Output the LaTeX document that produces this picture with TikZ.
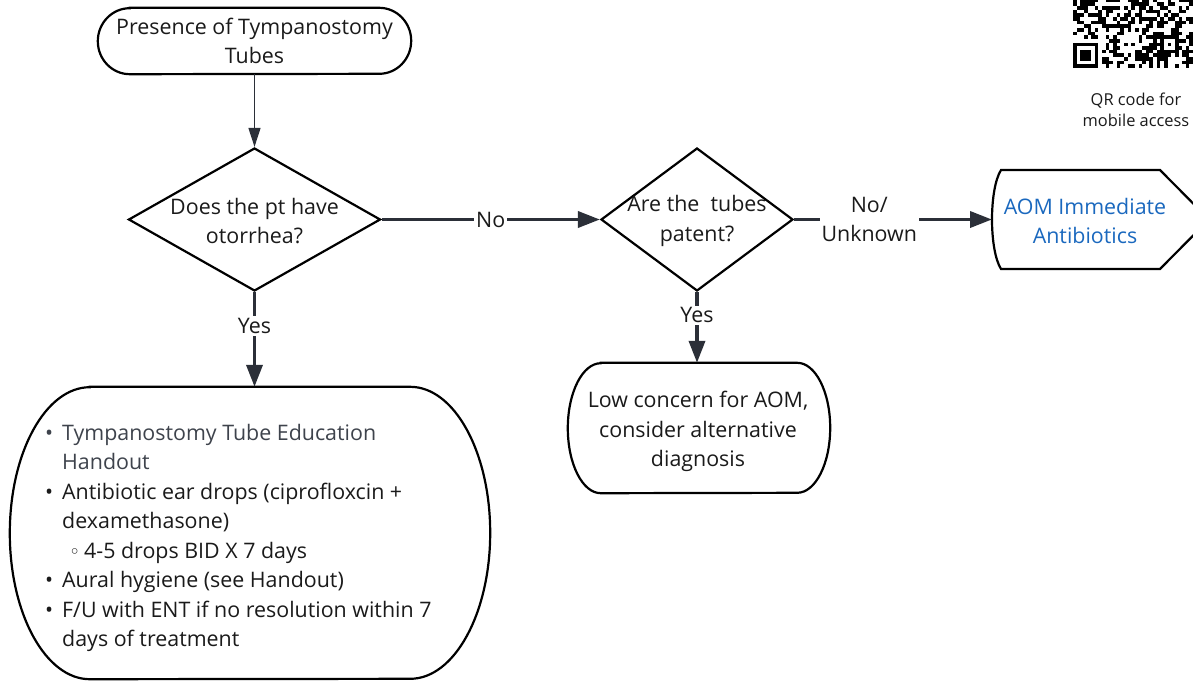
\documentclass[tikz,border=0pt]{standalone}
\usepackage{fontspec}
\setmainfont{Open Sans}
\newfontfamily\symfont{DejaVu Sans}
\usetikzlibrary{shapes.geometric,arrows.meta}
\definecolor{conn}{HTML}{2B2F38}
\definecolor{linkblue}{HTML}{1A68BE}
\definecolor{linkgray}{HTML}{3E434C}
\definecolor{txtc}{HTML}{1A1A1A}
\begin{document}
\begin{tikzpicture}[x=1pt,y=1pt,
  txt/.style={font=\fontsize{21.4}{29.5}\selectfont, align=center, inner sep=0pt, text=txtc},
  outline/.style={draw=black, line width=2.2pt},
  thickconn/.style={draw=conn, line width=3.6pt, -{Triangle[length=22pt,width=16pt]}},
  thinconn/.style={draw=conn, line width=1.3pt, -{Triangle[length=19pt,width=12pt]}},
  lbl/.style={font=\fontsize{21.4}{29.5}\selectfont, fill=white, inner sep=2pt, align=center, text=txtc},
  qrmod/.style={fill=black}
]
\useasboundingbox (0,0) rectangle (1193,-680);
\begin{scope}
\clip (0,0) rectangle (1193,-680);

% ---------- start terminator ----------
\node[txt, minimum width=313pt, minimum height=66pt] (start) at (254.5,-41) {Presence of Tympanostomy\\Tubes};
\draw[outline] ([xshift=32pt]start.north west) -- ([xshift=-32pt]start.north east)
  arc[start angle=90,end angle=-90,x radius=32pt,y radius=33pt]
  -- ([xshift=32pt]start.south west)
  arc[start angle=270,end angle=90,x radius=32pt,y radius=33pt] -- cycle;

% ---------- decisions ----------
\node[diamond, outline, minimum width=252pt, minimum height=143pt, inner sep=0pt] (d1) at (254.5,-219.5) {};
\node[txt] (d1t) at (254.5,-221) {Does the pt have\\otorrhea?};
\node[diamond, outline, minimum width=192pt, minimum height=143pt, inner sep=0pt] (d2) at (697,-219.5) {};
\node[txt] (d2t) at (697,-221) {Are the\ \ tubes\\patent?};

% ---------- AOM box ----------
\node[txt, text=linkblue] (aom) at (1085,-221) {AOM Immediate\\Antibiotics};
\coordinate (aomw) at (992,-219.5);
\draw[outline] (1001,-170) -- (1160,-170) -- (1209,-219.5) -- (1160,-269) -- (1001,-269)
  .. controls (989,-250) and (989,-189) .. (1001,-170) -- cycle;

% ---------- low concern ----------
\node[minimum width=262pt, minimum height=130pt, inner sep=0pt] (low) at (699,-428) {};
\node[txt] (lowt) at (698,-431.5) {Low concern for AOM,\\consider alternative\\diagnosis};
\draw[outline] ([xshift=33pt]low.north west) -- ([xshift=-33pt]low.north east)
  arc[start angle=90,end angle=-90,x radius=33pt,y radius=65pt]
  -- ([xshift=33pt]low.south west)
  arc[start angle=270,end angle=90,x radius=33pt,y radius=65pt] -- cycle;

% ---------- care box ----------
\node[minimum width=480pt, minimum height=292pt, inner sep=0pt] (care) at (250,-533) {};
\draw[outline] ([xshift=80pt]care.north west) -- ([xshift=-80pt]care.north east)
  arc[start angle=90,end angle=-90,x radius=80pt,y radius=146pt]
  -- ([xshift=80pt]care.south west)
  arc[start angle=270,end angle=90,x radius=80pt,y radius=146pt] -- cycle;
\node[txt, align=left, anchor=north west] (caretext) at (45,-424) {%
\makebox[17pt][l]{\textcolor{linkgray}{•}}\textcolor{linkgray}{Tympanostomy Tube Education}\\
\hspace*{17pt}\textcolor{linkgray}{Handout}\\
\makebox[17pt][l]{•}Antibiotic ear drops (ciprofloxcin +\\
\hspace*{17pt}dexamethasone)\\
\hspace*{24pt}\makebox[15pt][l]{\symfont\fontsize{19}{29}\selectfont ◦}4-5 drops BID X 7 days\\
\makebox[17pt][l]{•}Aural hygiene (see Handout)\\
\makebox[17pt][l]{•}F/U with ENT if no resolution within 7\\
\hspace*{17pt}days of treatment};

% ---------- connectors ----------
\draw[thinconn] (start.south) -- (d1.north);
\draw[thickconn] (d1.east) -- (d2.west) node[lbl, pos=0.5] (lno) {No};
\draw[thickconn] (d2.east) -- (aomw) node[lbl, pos=0.38] (lnou) {No/\\Unknown};
\draw[thickconn] (d1.south) -- (d1.south |- care.north) node[lbl, pos=0.36] (lyes1) {Yes};
\draw[thickconn] (d2.south) -- (d2.south |- low.north) node[lbl, pos=0.33] (lyes2) {Yes};

% ---------- QR code ----------
\pgfmathsetseed{17}
\foreach \c in {0,...,32}{
  \foreach \r in {0,...,18}{
    \pgfmathtruncatemacro\inreg{((\c<8)&&(\r<8))||((\c>23)&&(\c<29)&&(\r>3)&&(\r<9))||(\c==6)}
    \ifnum\inreg=0
      \pgfmathsetmacro\qv{rnd}
      \ifdim\qv pt<0.5pt
        \fill[qrmod] (1073+\c*3.64,-68+\r*3.64) rectangle ++(3.64,3.64);
      \fi
    \fi
  }
}
\foreach \r in {8,10,...,18}{
  \fill[qrmod] (1073+6*3.64,-68+\r*3.64) rectangle ++(3.64,3.64);
}
\fill[qrmod] (1073,-68) rectangle ++(7*3.64,7*3.64);
\fill[white] (1073+3.64,-68+3.64) rectangle ++(5*3.64,5*3.64);
\fill[qrmod] (1073+2*3.64,-68+2*3.64) rectangle ++(3*3.64,3*3.64);
\fill[qrmod] (1073+24*3.64,-68+4*3.64) rectangle ++(5*3.64,5*3.64);
\fill[white] (1073+25*3.64,-68+5*3.64) rectangle ++(3*3.64,3*3.64);
\fill[qrmod] (1073+26*3.64,-68+6*3.64) rectangle ++(3.64,3.64);
\node[align=center, inner sep=0pt, font=\fontsize{16.4}{21.5}\selectfont, text=txtc] (qrcap) at (1136,-110) {QR code for\\mobile access};
\end{scope}
\end{tikzpicture}
\end{document}
